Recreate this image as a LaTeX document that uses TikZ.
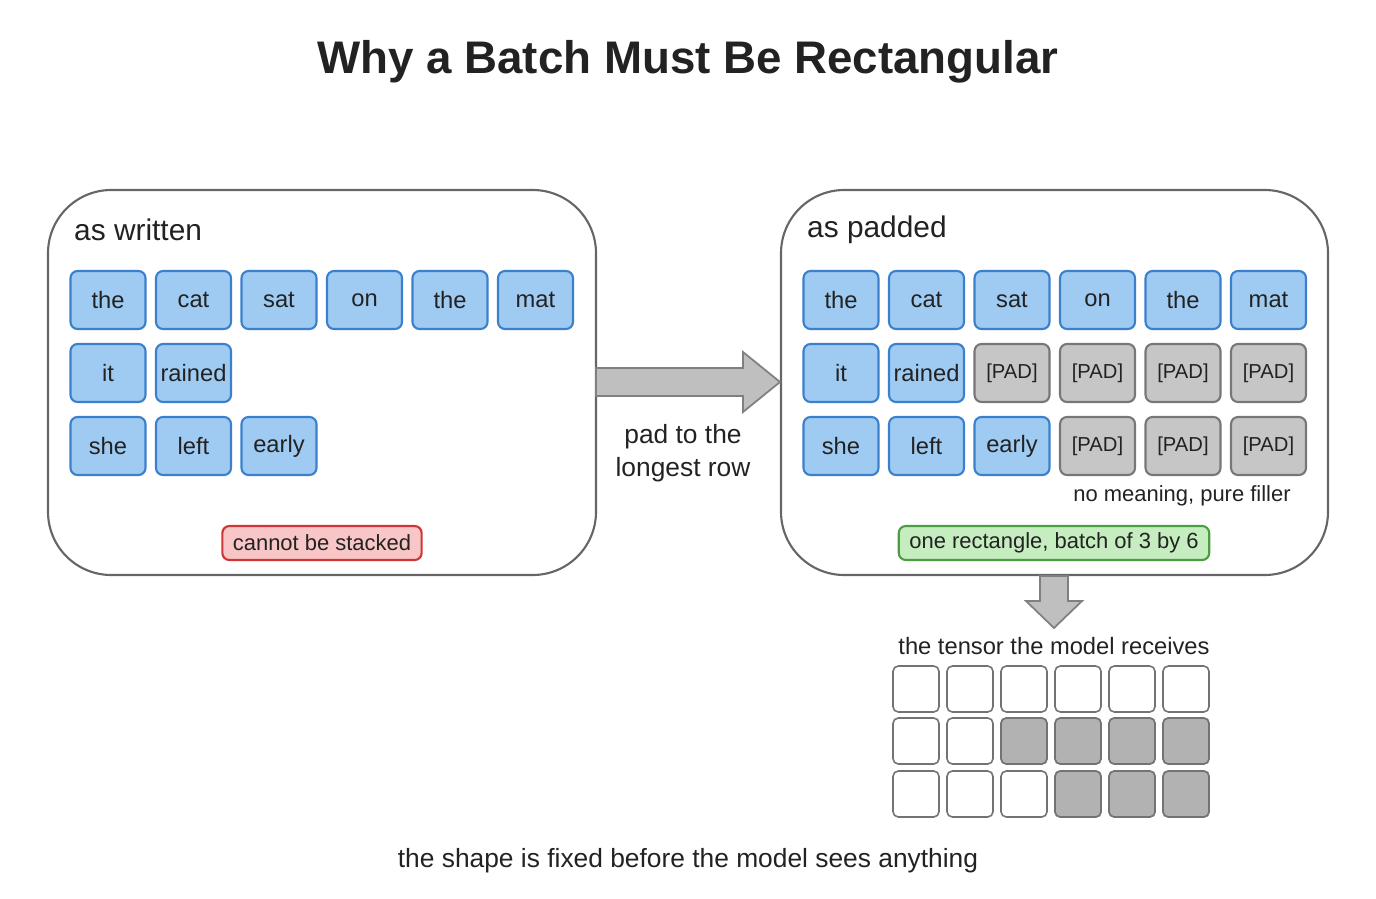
\documentclass[tikz,border=0pt]{standalone}
\usepackage{fontspec}
\setmainfont{Liberation Sans}
\usetikzlibrary{positioning}
\definecolor{tokfill}{HTML}{9FCBF2}
\definecolor{tokline}{HTML}{3A80CC}
\definecolor{padfill}{HTML}{C6C6C6}
\definecolor{padline}{HTML}{777777}
\definecolor{redfill}{HTML}{F8C6C6}
\definecolor{redline}{HTML}{D03535}
\definecolor{grnfill}{HTML}{C6EDC0}
\definecolor{grnline}{HTML}{4C9C42}
\definecolor{txt}{HTML}{222222}
\tikzset{
  panel/.style = {draw=black!60, line width=1.2pt, rounded corners=36pt},
  token/.style = {draw=tokline, fill=tokfill, line width=1.2pt, rounded corners=4pt,
                  minimum width=1.5cm, minimum height=1.16cm, inner sep=0pt, font=\fontsize{13.5}{15}\selectfont, text=txt},
  padtok/.style = {token, draw=padline, fill=padfill, font=\fontsize{11.5}{13}\selectfont},
  tag/.style = {line width=1.2pt, rounded corners=4pt, minimum height=0.68cm, inner xsep=6pt, font=\fontsize{12.5}{14}\selectfont, text=txt},
  cell/.style = {draw=black!55, line width=0.9pt, rounded corners=3pt, minimum size=0.92cm, inner sep=0pt},
  bigarrow/.style = {fill=black!25, draw=black!50, line width=1pt, line join=miter}
}
\begin{document}
\begin{tikzpicture}[x=0.02cm,y=-0.02cm]
\useasboundingbox (0,0) rectangle (1376,899);
\node[font=\bfseries\fontsize{26}{30}\selectfont, text=txt] (title) at (688,62) {Why a Batch Must Be Rectangular};

% left panel
\draw[panel] (48,190) rectangle (596,575);
\node[anchor=west, font=\fontsize{17}{20}\selectfont, text=txt] (written) at (68,230) {as written};
\foreach \w [count=\i from 0] in {the,cat,sat,on,the,mat}
  \node[token] (l1\i) at (108+85.5*\i,300) {\w};
\foreach \w [count=\i from 0] in {it,rained}
  \node[token] (l2\i) at (108+85.5*\i,373) {\w};
\foreach \w [count=\i from 0] in {she,left,early}
  \node[token] (l3\i) at (108+85.5*\i,446) {\w};
\node[tag, draw=redline, fill=redfill] (stuck) at (322,543) {cannot be stacked};

% right panel
\draw[panel] (781,190) rectangle (1328,575);
\node[anchor=west, font=\fontsize{17}{20}\selectfont, text=txt] (padded) at (801,230) {as padded};
\foreach \w [count=\i from 0] in {the,cat,sat,on,the,mat}
  \node[token] (r1\i) at (841+85.5*\i,300) {\w};
\foreach \w [count=\i from 0] in {it,rained}
  \node[token] (r2\i) at (841+85.5*\i,373) {\w};
\foreach \i in {2,...,5}
  \node[padtok] (r2\i) at (841+85.5*\i,373) {[PAD]};
\foreach \w [count=\i from 0] in {she,left,early}
  \node[token] (r3\i) at (841+85.5*\i,446) {\w};
\foreach \i in {3,4,5}
  \node[padtok] (r3\i) at (841+85.5*\i,446) {[PAD]};
\node[font=\fontsize{12.5}{14}\selectfont, text=txt] (filler) at (1182,496) {no meaning, pure filler};
\node[tag, draw=grnline, fill=grnfill] (rect) at (1054,543) {one rectangle, batch of 3 by 6};

% arrows
\draw[bigarrow] (596,368) -- (743,368) -- (743,352) -- (780,382) -- (743,412) -- (743,396) -- (596,396) -- cycle;
\node[align=center, font=\fontsize{15}{19}\selectfont, text=txt] (padlbl) at (683,453) {pad to the\\longest row};
\draw[bigarrow] (1040,576) -- (1068,576) -- (1068,601) -- (1082,601) -- (1054,628) -- (1026,601) -- (1040,601) -- cycle;

% tensor
\node[font=\fontsize{13.5}{15}\selectfont, text=txt] (tensor) at (1054,646) {the tensor the model receives};
\foreach \c in {0,...,5} {
  \node[cell] (t1\c) at (916+54*\c,689) {};
  \node[cell] (t2\c) at (916+54*\c,741) {};
  \node[cell] (t3\c) at (916+54*\c,794) {};
}
\foreach \c in {2,...,5}
  \node[cell, fill=black!30] at (t2\c) {};
\foreach \c in {3,4,5}
  \node[cell, fill=black!30] at (t3\c) {};

\node[font=\fontsize{15}{18}\selectfont, text=txt] (footer) at (688,861) {the shape is fixed before the model sees anything};
\end{tikzpicture}
\end{document}
